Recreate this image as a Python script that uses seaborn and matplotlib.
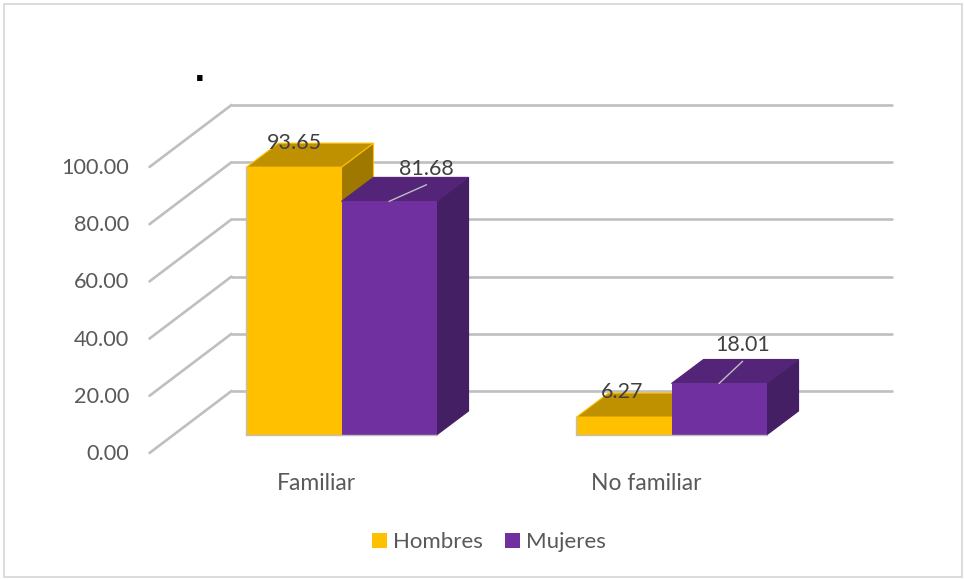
import matplotlib
matplotlib.use("Agg")
import matplotlib.pyplot as plt
import pandas as pd
import seaborn as sns
from matplotlib.lines import Line2D
from matplotlib.patches import Polygon, Rectangle
from matplotlib.transforms import Affine2D, IdentityTransform

categories = ["Familiar", "No familiar"]
series_names = ["Hombres", "Mujeres"]
hombres = [93.65, 6.27]
mujeres = [81.68, 18.01]
y_ticks = [0, 20, 40, 60, 80, 100]

# front / top / side colours of the fake 3d boxes
faces = {
    "Hombres": ("#FFC000", "#BF9000", "#9F7800"),
    "Mujeres": ("#7030A0", "#542478", "#451F63"),
}
GRID = "#BFBFBF"
W, H = 964, 579

# offsets in pixels (x right, y up)
BOX_DEPTH = (32, 24)
WALL = (55, 44)
FRONT = (-27, -18)

df = pd.DataFrame({
    "grupo": categories * 2,
    "sexo": [series_names[0]] * 2 + [series_names[1]] * 2,
    "valor": hombres + mujeres,
})

sns.set_theme(style="white")
plt.rcParams["font.family"] = ["Lato", "DejaVu Sans"]

fig = plt.figure(figsize=(W / 100, H / 100), dpi=100)
fig.patch.set_facecolor("white")
fig.add_artist(Rectangle((3.5 / W, 2 / H), 958.5 / W, 573.5 / H, transform=fig.transFigure,
                         fill=False, edgecolor="#D9D9D9", linewidth=1.3))

# y=0 sits on the bar base, the wall and the front edge are shifted from there
ax = fig.add_axes([176.5 / W, (H - 435) / H, 660 / W, 286 / H])
ax.patch.set_alpha(0)
sns.barplot(data=df, x="grupo", y="valor", hue="sexo", hue_order=series_names,
            palette={k: v[0] for k, v in faces.items()}, width=0.576, gap=0,
            saturation=1, linewidth=0, zorder=4, ax=ax)
ax.set_xlim(-0.5, 1.5)
ax.set_ylim(0, 100)
ax.set_xlabel("")
ax.set_ylabel("")
sns.despine(ax=ax, left=True, bottom=True)


def px(x, y, shift=(0, 0)):
    p = ax.transData.transform((x, y))
    return p[0] + shift[0], p[1] + shift[1]


def pixel_line(a, b, **kw):
    ax.add_line(Line2D([a[0], b[0]], [a[1], b[1]], transform=IdentityTransform(),
                       clip_on=False, **kw))


# back wall and the diagonals coming out of it
for v in y_ticks:
    grid_style = dict(color=GRID, linewidth=1.9, zorder=1, solid_capstyle="round")
    pixel_line(px(-0.5, v, WALL), px(1.5, v, WALL), **grid_style)
    pixel_line(px(-0.5, v, WALL), px(-0.5, v, FRONT), **grid_style)

# top and side of every bar
for i, (name, container) in enumerate(zip(series_names, ax.containers)):
    front, top, side = faces[name]
    for bar in container:
        x0, x1 = bar.get_x(), bar.get_x() + bar.get_width()
        h = bar.get_height()
        top_pts = [px(x0, h), px(x1, h), px(x1, h, BOX_DEPTH), px(x0, h, BOX_DEPTH)]
        side_pts = [px(x1, 0), px(x1, h), px(x1, h, BOX_DEPTH), px(x1, 0, BOX_DEPTH)]
        bar.set_zorder(3 + 2 * i)
        for pts, c in ((side_pts, side), (top_pts, top)):
            ax.add_patch(Polygon(pts, closed=True, facecolor=c, edgecolor=front if i == 0 else c,
                                 linewidth=0.8, transform=IdentityTransform(),
                                 clip_on=False, zorder=2 + 2 * i))
        bar.set_clip_on(False)
        # thin grey edge along the base, and on the left of the yellow bars
        edge = dict(color=GRID, linewidth=1.0, zorder=7)
        pixel_line(px(x0, 0), px(x1, 0), **edge)
        if i == 0:
            pixel_line(px(x0, 0), px(x0, h), **edge)

# labels, offset in points from the top middle of the bar
label_offsets = [[(0, 17.5), (-1.5, 18)], [(27, 23.5), (17, 27.5)]]
leader_ends = [[None, None], [(27, 12), (17, 16)]]
for i, container in enumerate(ax.containers):
    values = hombres if i == 0 else mujeres
    for j, bar in enumerate(container):
        xc = bar.get_x() + bar.get_width() / 2
        ax.annotate(f"{values[j]:.2f}", (xc, values[j]), xytext=label_offsets[i][j],
                    textcoords="offset points", ha="center", va="center",
                    fontsize=15.5, color="#404040", zorder=10, annotation_clip=False)
        if leader_ends[i][j]:
            ax.annotate("", (xc, values[j]), xytext=leader_ends[i][j], textcoords="offset points",
                        arrowprops=dict(arrowstyle="-", color=GRID, linewidth=1, shrinkA=0, shrinkB=0),
                        zorder=9, annotation_clip=False)

ax.set_yticks(y_ticks, [f"{v:.2f}" for v in y_ticks])
ax.tick_params(axis="y", length=0, pad=34, labelsize=15.6, labelcolor="#595959")
ax.tick_params(axis="x", length=0, pad=27.5, labelsize=16.5, labelcolor="#595959")
for label in ax.get_yticklabels():
    label.set_transform(label.get_transform() + Affine2D().translate(0, -17))
for label in ax.get_xticklabels():
    label.set_transform(label.get_transform() + Affine2D().translate(-25, 0))

sns.move_legend(ax, "center", bbox_to_anchor=(489 / W, 1 - 542 / H), bbox_transform=fig.transFigure,
                ncol=2, frameon=False, title=None, fontsize=16, handlelength=0.68, handleheight=0.68,
                handletextpad=0.25, columnspacing=1.0, labelcolor="#595959")

# stray title dot in the original
fig.text(199.5 / W, 1 - 81 / H, ".", fontsize=22, fontweight="bold", color="black",
         ha="center", va="baseline", family=["DejaVu Sans"])

fig.savefig("out.png", dpi=100, facecolor="white")
